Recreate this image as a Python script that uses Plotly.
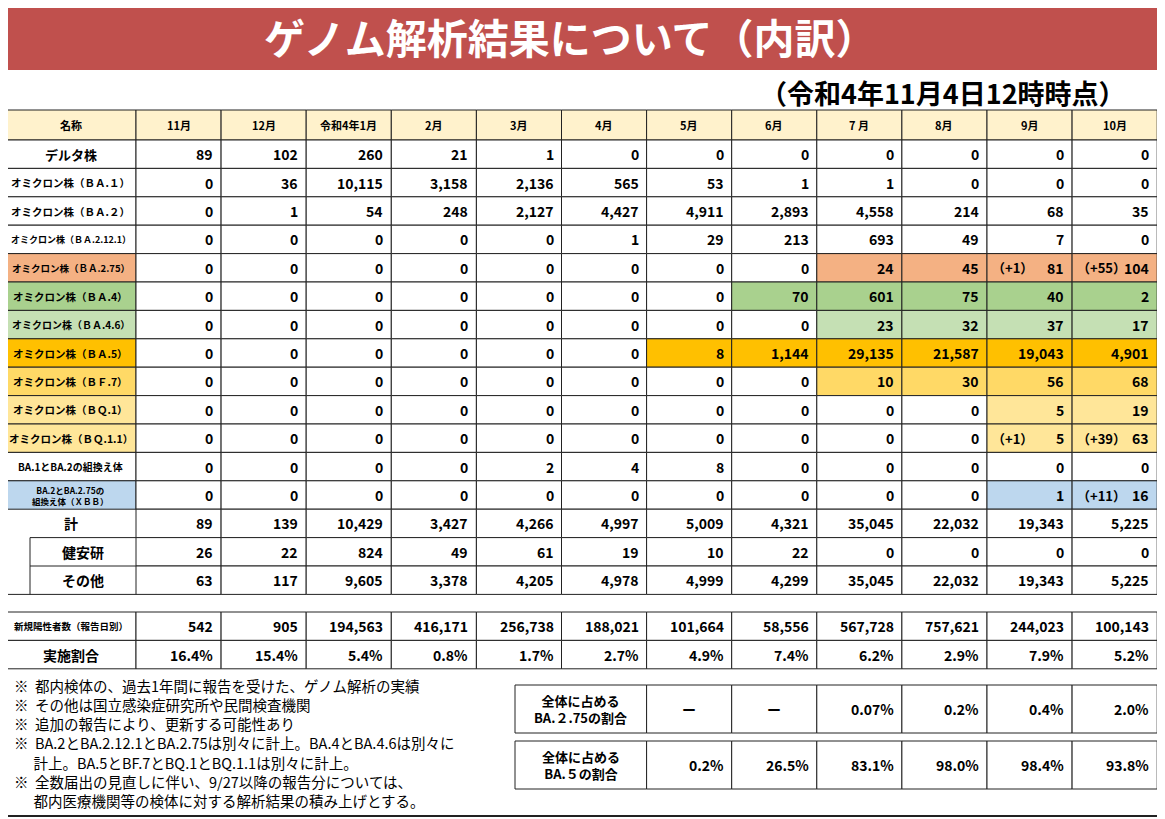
import plotly.graph_objects as go

months = ["11月","12月","令和4年1月","2月","3月","4月","5月","6月","7 月","8月","9月","10月"]
names = ["デルタ株","オミクロン株（ＢＡ.１）","オミクロン株（ＢＡ.２）","オミクロン株（ＢＡ.2.12.1）",
         "オミクロン株（ＢＡ.2.75）","オミクロン株（ＢＡ.4）","オミクロン株（ＢＡ.4.6）","オミクロン株（ＢＡ.5）",
         "オミクロン株（ＢＦ.7）","オミクロン株（ＢＱ.1）","オミクロン株（ＢＱ.1.1）","BA.1とBA.2の組換え体",
         "BA.2とBA.2.75の<br>組換え体（ＸＢＢ）"]
values = [
 ["89","102","260","21","1","0","0","0","0","0","0","0"],
 ["0","36","10,115","3,158","2,136","565","53","1","1","0","0","0"],
 ["0","1","54","248","2,127","4,427","4,911","2,893","4,558","214","68","35"],
 ["0","0","0","0","0","1","29","213","693","49","7","0"],
 ["0","0","0","0","0","0","0","0","24","45","81","104"],
 ["0","0","0","0","0","0","0","70","601","75","40","2"],
 ["0","0","0","0","0","0","0","0","23","32","37","17"],
 ["0","0","0","0","0","0","8","1,144","29,135","21,587","19,043","4,901"],
 ["0","0","0","0","0","0","0","0","10","30","56","68"],
 ["0","0","0","0","0","0","0","0","0","0","5","19"],
 ["0","0","0","0","0","0","0","0","0","0","5","63"],
 ["0","0","0","0","2","4","8","0","0","0","0","0"],
 ["0","0","0","0","0","0","0","0","0","0","1","16"],
]
prefix = {(4,10):"（+1）",(4,11):"（+55）",(10,10):"（+1）",(10,11):"（+39）",(12,11):"（+11）"}
totals = ["89","139","10,429","3,427","4,266","4,997","5,009","4,321","35,045","22,032","19,343","5,225"]
kenanken = ["26","22","824","49","61","19","10","22","0","0","0","0"]
others = ["63","117","9,605","3,378","4,205","4,978","4,999","4,299","35,045","22,032","19,343","5,225"]
new_pos = ["542","905","194,563","416,171","256,738","188,021","101,664","58,556","567,728","757,621","244,023","100,143"]
rate = ["16.4%","15.4%","5.4%","0.8%","1.7%","2.7%","4.9%","7.4%","6.2%","2.9%","7.9%","5.2%"]
share_275 = ["ー","ー","0.07%","0.2%","0.4%","2.0%"]
share_ba5 = ["0.2%","26.5%","83.1%","98.0%","98.4%","93.8%"]
notes = ["※  都内検体の、過去1年間に報告を受けた、ゲノム解析の実績",
         "※  その他は国立感染症研究所や民間検査機関",
         "※  追加の報告により、更新する可能性あり",
         "※  BA.2とBA.2.12.1とBA.2.75は別々に計上。BA.4とBA.4.6は別々に",
         "      計上。BA.5とBF.7とBQ.1とBQ.1.1は別々に計上。",
         "※  全数届出の見直しに伴い、9/27以降の報告分については、",
         "      都内医療機関等の検体に対する解析結果の積み上げとする。"]

row_col = {4:"#f4b183",5:"#a9d18e",6:"#c5e0b4",7:"#ffc000",8:"#ffd966",9:"#ffe699",10:"#ffe699",12:"#bdd7ee"}
name_col = dict(row_col)
start_col = {4:8,5:7,6:8,7:6,8:8,9:10,10:10,12:10}
FONT = "Noto Sans CJK JP"

xb = [5,136] + [136+85.1*(i+1) for i in range(12)]
top, hh, rh = 110, 30, 28.4
shapes, ann = [], []
def rect(x0,y0,x1,y1,fill="white",lw=1):
    shapes.append(dict(type="rect",x0=x0,y0=y0,x1=x1,y1=y1,fillcolor=fill,line=dict(color="#222",width=lw),layer="below"))
def line(x0,y0,x1,y1,lw=1):
    shapes.append(dict(type="line",x0=x0,y0=y0,x1=x1,y1=y1,line=dict(color="#222",width=lw)))
def text(x,y,s,size=13,anchor="center",color="black",bold=True):
    ann.append(dict(x=x,y=y,text=f"<b>{s}</b>" if bold else s,showarrow=False,xanchor=anchor,yanchor="middle",
                    font=dict(family=FONT,size=size,color=color)))

shapes.append(dict(type="rect",x0=-20,y0=-20,x1=1200,y1=70,fillcolor="#c0504d",line=dict(width=0),layer="below"))
text(570,36,"ゲノム解析結果について（内訳）",41,color="white")
text(1128,92,"（令和4年11月4日12時時点）",27,anchor="right")

hdr = "#fff2cc"
rect(xb[0],top,xb[1],top+hh,hdr); text((xb[0]+xb[1])/2,top+hh/2,"名称",11)
for j,m in enumerate(months):
    rect(xb[j+1],top,xb[j+2],top+hh,hdr); text((xb[j+1]+xb[j+2])/2,top+hh/2,m,11)

sizes = [13,10.5,10.5,9,9.5,10.5,10,10.5,10.5,10.5,10.5,10,8.5]
y0 = top+hh
for i,nm in enumerate(names):
    ya, yb = y0+i*rh, y0+(i+1)*rh
    rect(xb[0],ya,xb[1],yb,name_col.get(i,"white"))
    text((xb[0]+xb[1])/2,(ya+yb)/2,nm,sizes[i])
    for j,v in enumerate(values[i]):
        f = row_col[i] if i in row_col and j>=start_col[i] else "white"
        rect(xb[j+1],ya,xb[j+2],yb,f)
        text(xb[j+2]-6,(ya+yb)/2,v,14,anchor="right")
        if (i,j) in prefix:
            text(xb[j+1]+3,(ya+yb)/2,prefix[(i,j)],13,anchor="left")

ys = y0+len(names)*rh
labels3 = [("計",totals),("健安研",kenanken),("その他",others)]
for k,(lab,vals) in enumerate(labels3):
    ya, yb = ys+k*rh, ys+(k+1)*rh
    for j,v in enumerate(vals):
        rect(xb[j+1],ya,xb[j+2],yb)
        text(xb[j+2]-6,(ya+yb)/2,v,14,anchor="right")
    text((xb[0]+xb[1])/2 if k==0 else (30+xb[1])/2,(ya+yb)/2,lab,14)
yend = ys+3*rh
line(xb[0],ys,xb[0],yend); line(xb[0],yend,xb[1],yend)
line(30,ys+rh,30,yend); line(30,ys+rh,xb[1],ys+rh); line(30,ys+2*rh,xb[1],ys+2*rh)

bt = 612
for k,(lab,vals) in enumerate([("新規陽性者数（報告日別）",new_pos),("実施割合",rate)]):
    ya, yb = bt+k*rh, bt+(k+1)*rh
    rect(xb[0],ya,xb[1],yb)
    text((xb[0]+xb[1])/2,(ya+yb)/2,lab,9.5 if k==0 else 14)
    for j,v in enumerate(vals):
        rect(xb[j+1],ya,xb[j+2],yb)
        text(xb[j+2]-6,(ya+yb)/2,v,14,anchor="right")

for k,(lab,vals) in enumerate([("全体に占める<br>BA.２.75の割合",share_275),("全体に占める<br>BA.５の割合",share_ba5)]):
    ya, yb = 685+k*56, 733+k*56
    rect(515,ya,xb[7],yb)
    text((515+xb[7])/2,(ya+yb)/2,lab,13)
    for j,v in enumerate(vals):
        rect(xb[7+j],ya,xb[8+j],yb)
        if v=="ー":
            text((xb[7+j]+xb[8+j])/2,(ya+yb)/2,v,14)
        else:
            text(xb[8+j]-6,(ya+yb)/2,v,14,anchor="right")

for n,s in enumerate(notes):
    text(12,685+n*19.3,s,14.5,anchor="left",bold=False)
line(-20,816,1200,816,2)

fig = go.Figure()
fig.update_layout(width=1165,height=819,margin=dict(l=0,r=0,t=0,b=0),plot_bgcolor="white",paper_bgcolor="white",
                  shapes=shapes,annotations=ann,showlegend=False,
                  xaxis=dict(range=[8,1173],visible=False,fixedrange=True),
                  yaxis=dict(range=[827,8],visible=False,fixedrange=True))
fig.write_html("out.html")
